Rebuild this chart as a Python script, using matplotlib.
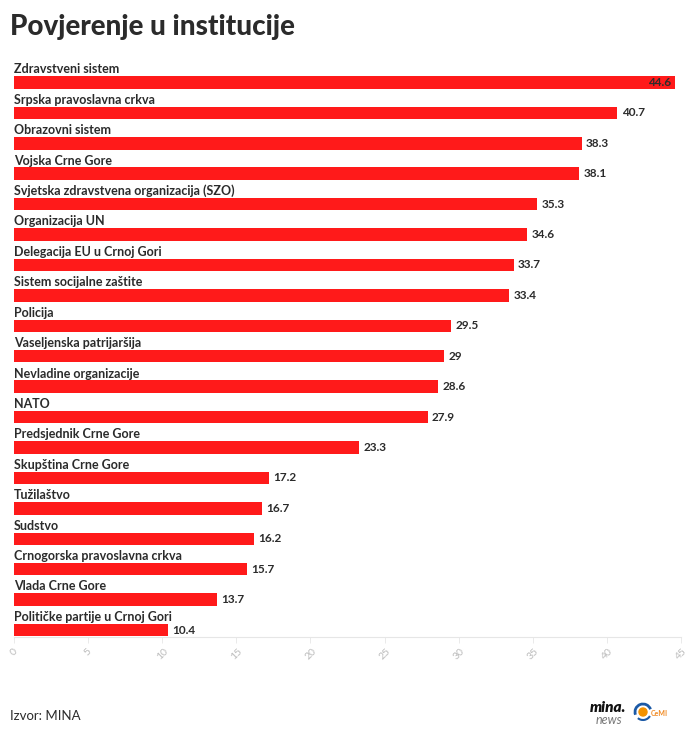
import matplotlib
matplotlib.use("Agg")
import matplotlib.pyplot as plt
from matplotlib.patches import Circle, Arc

categories = [
    "Zdravstveni sistem",
    "Srpska pravoslavna crkva",
    "Obrazovni sistem",
    "Vojska Crne Gore",
    "Svjetska zdravstvena organizacija (SZO)",
    "Organizacija UN",
    "Delegacija EU u Crnoj Gori",
    "Sistem socijalne zaštite",
    "Policija",
    "Vaseljenska patrijaršija",
    "Nevladine organizacije",
    "NATO",
    "Predsjednik Crne Gore",
    "Skupština Crne Gore",
    "Tužilaštvo",
    "Sudstvo",
    "Crnogorska pravoslavna crkva",
    "Vlada Crne Gore",
    "Političke partije u Crnoj Gori",
]
values = [44.6, 40.7, 38.3, 38.1, 35.3, 34.6, 33.7, 33.4, 29.5, 29, 28.6,
          27.9, 23.3, 17.2, 16.7, 16.2, 15.7, 13.7, 10.4]
value_labels = ["44.6", "40.7", "38.3", "38.1", "35.3", "34.6", "33.7", "33.4",
                "29.5", "29", "28.6", "27.9", "23.3", "17.2", "16.7", "16.2",
                "15.7", "13.7", "10.4"]
xticks = [0, 5, 10, 15, 20, 25, 30, 35, 40, 45]

plt.rcParams['font.family'] = ['Lato', 'DejaVu Sans']

W, H = 696, 743
fig = plt.figure(figsize=(W / 100, H / 100), dpi=100)
fig.patch.set_facecolor('white')

left_px, right_px = 14, 681
top_px, bottom_px = 49.0, 637.0
ax = fig.add_axes([left_px / W, 1 - bottom_px / H,
                   (right_px - left_px) / W, (bottom_px - top_px) / H])

bar_color = '#ff1a1a'
text_color = '#2b2b2b'
ypos = list(range(len(categories)))
ax.barh(ypos, values, height=0.41, color=bar_color, edgecolor='none', zorder=2)

for y, v, lab, cat in zip(ypos, values, value_labels, categories):
    ax.text(0, y - 0.235, cat, ha='left', va='bottom', fontsize=9,
            fontweight='bold', color=text_color)
    if v > 43:
        ax.text(v - 0.25, y, lab, ha='right', va='center', fontsize=8.5,
                fontweight='bold', color=text_color, zorder=3)
    else:
        ax.text(v + 0.3, y, lab, ha='left', va='center', fontsize=8.5,
                fontweight='bold', color=text_color, zorder=3)

ax.set_xlim(0, 45)
ax.set_ylim(18.23, -1.1)
ax.set_xticks(xticks)
ax.set_xticklabels([str(t) for t in xticks], rotation=45, fontsize=7.5,
                   color='#bbbbbb')
ax.set_yticks([])
ax.tick_params(axis='x', length=4, width=0.6, color='#e6e6e6', pad=3)
for s in ['top', 'right', 'left']:
    ax.spines[s].set_visible(False)
ax.spines['bottom'].set_color('#e6e6e6')
ax.spines['bottom'].set_linewidth(0.8)

fig.text(10 / W, 1 - 27 / H, "Povjerenje u institucije", ha='left',
         va='center', fontsize=20, fontweight=900, color=text_color)
fig.text(10 / W, 1 - 716 / H, "Izvor: MINA", ha='left', va='center',
         fontsize=9.5, color=text_color)

# logos approximated with text and shapes
fig.text(626 / W, 1 - 708 / H, "mina.", ha='right', va='center', fontsize=11,
         fontweight='heavy', fontstyle='italic', color='#111111')
fig.text(622 / W, 1 - 720 / H, "news", ha='right', va='center', fontsize=9,
         fontstyle='italic', color='#777777')
fig.text(651 / W, 1 - 713 / H, "CeMI", ha='left', va='center', fontsize=5,
         fontweight='bold', color='#f08a24')
fig.patches.append(Circle((643, H - 712), 4.0, transform=None,
                          color='#f39200'))
fig.patches.append(Arc((643, H - 712), 16, 16, theta1=20, theta2=200,
                       transform=None, color='#1c5aa6', lw=2))
fig.patches.append(Arc((643, H - 712), 16, 16, theta1=230, theta2=330,
                       transform=None, color='#1c5aa6', lw=1.5))

fig.savefig("out.png", dpi=100, facecolor='white')
